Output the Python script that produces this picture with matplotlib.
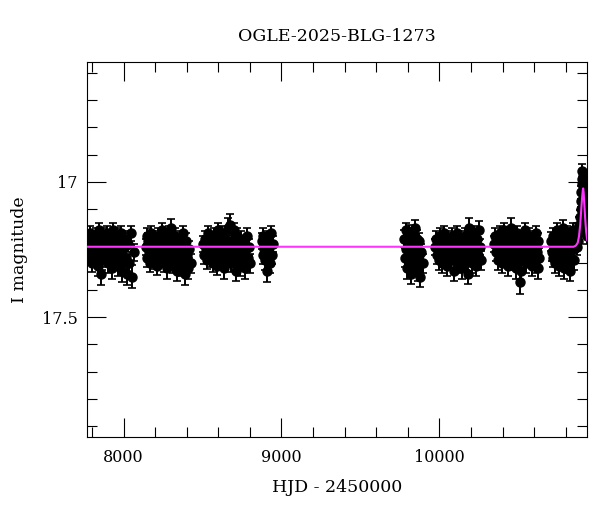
import matplotlib.pyplot as plt
import numpy as np
from matplotlib.ticker import MultipleLocator, FormatStrFormatter

plt.rcParams['font.family'] = ['DejaVu Serif']

# 2017
t1 = [7778, 7783, 7789, 7794, 7800, 7805, 7811, 7816, 7822, 7827,
      7833, 7838, 7844, 7849, 7855, 7860, 7866, 7871, 7877, 7882,
      7888, 7893, 7899, 7904, 7910, 7915, 7921, 7926, 7932, 7937,
      7943, 7948, 7954, 7959, 7965, 7970, 7976, 7981, 7987, 7992,
      7998, 8004, 8010, 8016, 8022, 8029, 8036, 8044, 8053, 8066]
m1 = [17.22, 17.27, 17.19, 17.25, 17.30, 17.21, 17.24, 17.28, 17.20, 17.26,
      17.23, 17.31, 17.18, 17.25, 17.34, 17.22, 17.29, 17.20, 17.26, 17.24,
      17.28, 17.19, 17.23, 17.30, 17.21, 17.27, 17.25, 17.32, 17.18, 17.24,
      17.29, 17.22, 17.26, 17.20, 17.31, 17.23, 17.27, 17.19, 17.33, 17.25,
      17.22, 17.29, 17.21, 17.28, 17.34, 17.23, 17.30, 17.19, 17.35, 17.26]
e1 = [.030, .032, .028, .031, .034, .029, .030, .033, .028, .031,
      .030, .036, .027, .031, .040, .029, .034, .028, .031, .030,
      .033, .028, .030, .035, .029, .032, .031, .038, .027, .030,
      .034, .029, .031, .028, .036, .030, .032, .028, .039, .031,
      .029, .034, .029, .033, .040, .030, .035, .028, .042, .031]

# 2018
t2 = [8140, 8146, 8151, 8157, 8163, 8168, 8174, 8180, 8185, 8191,
      8197, 8202, 8208, 8214, 8219, 8225, 8231, 8236, 8242, 8248,
      8253, 8259, 8265, 8270, 8276, 8282, 8287, 8293, 8299, 8304,
      8310, 8316, 8321, 8327, 8333, 8338, 8344, 8350, 8355, 8361,
      8367, 8372, 8378, 8384, 8389, 8395, 8401, 8408, 8416, 8425]
m2 = [17.24, 17.20, 17.28, 17.22, 17.26, 17.30, 17.19, 17.25, 17.23, 17.29,
      17.21, 17.27, 17.24, 17.31, 17.20, 17.26, 17.22, 17.28, 17.18, 17.25,
      17.30, 17.23, 17.27, 17.21, 17.32, 17.24, 17.19, 17.28, 17.17, 17.26,
      17.22, 17.30, 17.25, 17.20, 17.27, 17.33, 17.23, 17.29, 17.21, 17.26,
      17.24, 17.31, 17.19, 17.28, 17.34, 17.22, 17.27, 17.32, 17.25, 17.30]
e2 = [.030, .028, .033, .029, .031, .034, .028, .030, .030, .033,
      .029, .032, .030, .035, .028, .031, .029, .033, .027, .031,
      .034, .030, .032, .029, .037, .030, .028, .033, .034, .031,
      .029, .035, .031, .028, .032, .038, .030, .034, .029, .031,
      .030, .036, .028, .033, .040, .029, .032, .037, .031, .035]

# 2019
t3 = [8505, 8511, 8517, 8523, 8529, 8535, 8541, 8547, 8553, 8559,
      8565, 8571, 8577, 8583, 8589, 8595, 8601, 8607, 8613, 8619,
      8625, 8631, 8637, 8643, 8649, 8655, 8661, 8667, 8673, 8679,
      8685, 8691, 8697, 8703, 8709, 8715, 8721, 8727, 8733, 8739,
      8745, 8751, 8757, 8763, 8769, 8775, 8781, 8787, 8793, 8799]
m3 = [17.23, 17.27, 17.21, 17.25, 17.29, 17.19, 17.24, 17.28, 17.22, 17.26,
      17.30, 17.20, 17.25, 17.23, 17.31, 17.18, 17.27, 17.22, 17.29, 17.24,
      17.19, 17.26, 17.32, 17.21, 17.28, 17.24, 17.17, 17.27, 17.16, 17.30,
      17.22, 17.25, 17.18, 17.29, 17.23, 17.33, 17.20, 17.27, 17.24, 17.31,
      17.21, 17.26, 17.29, 17.23, 17.32, 17.25, 17.20, 17.28, 17.24, 17.30]
e3 = [.030, .032, .029, .031, .033, .028, .030, .033, .029, .031,
      .034, .028, .031, .030, .035, .027, .032, .029, .034, .030,
      .028, .031, .037, .029, .033, .030, .036, .032, .040, .034,
      .029, .031, .027, .034, .030, .038, .028, .032, .030, .036,
      .029, .031, .034, .030, .037, .031, .028, .033, .030, .035]

# 2020
t4 = [8876, 8881, 8886, 8891, 8896, 8901, 8906, 8911, 8916, 8921, 8926, 8931, 8937, 8944]
m4 = [17.22, 17.27, 17.20, 17.25, 17.29, 17.23, 17.33, 17.21, 17.26, 17.24, 17.30, 17.19, 17.27, 17.23]
e4 = [.030, .033, .028, .031, .034, .030, .040, .029, .032, .030, .035, .028, .033, .030]

# 2022
t5 = [9778, 9782, 9787, 9791, 9796, 9800, 9805, 9809, 9814, 9818, 9823, 9827, 9832,
      9836, 9841, 9845, 9850, 9854, 9859, 9863, 9868, 9873, 9879, 9886, 9895]
m5 = [17.21, 17.28, 17.18, 17.25, 17.32, 17.22, 17.27, 17.19, 17.30, 17.24, 17.34, 17.20, 17.26,
      17.29, 17.23, 17.17, 17.31, 17.25, 17.21, 17.33, 17.27, 17.22, 17.35, 17.26, 17.30]
e5 = [.031, .034, .029, .032, .037, .030, .033, .029, .035, .031, .039, .029, .032,
      .034, .030, .028, .036, .031, .030, .038, .033, .030, .040, .032, .035]

# 2023
t6 = [9971, 9977, 9983, 9989, 9995, 10001, 10007, 10013, 10019, 10025,
      10031, 10037, 10043, 10049, 10055, 10061, 10067, 10073, 10079, 10085,
      10091, 10097, 10103, 10109, 10115, 10121, 10127, 10133, 10139, 10145,
      10151, 10157, 10163, 10169, 10175, 10181, 10187, 10193, 10199, 10205,
      10211, 10217, 10223, 10229, 10235, 10241, 10247, 10253, 10258, 10262]
m6 = [17.24, 17.21, 17.27, 17.23, 17.29, 17.20, 17.26, 17.22, 17.30, 17.25,
      17.19, 17.28, 17.24, 17.31, 17.21, 17.26, 17.23, 17.29, 17.20, 17.27,
      17.33, 17.22, 17.25, 17.19, 17.28, 17.24, 17.30, 17.21, 17.26, 17.32,
      17.23, 17.27, 17.20, 17.29, 17.24, 17.34, 17.17, 17.26, 17.22, 17.30,
      17.25, 17.19, 17.28, 17.23, 17.31, 17.21, 17.27, 17.18, 17.24, 17.29]
e6 = [.030, .029, .032, .030, .034, .028, .031, .029, .035, .031,
      .028, .033, .030, .036, .029, .031, .030, .034, .028, .032,
      .038, .029, .031, .028, .033, .030, .035, .029, .032, .037,
      .030, .032, .028, .034, .030, .039, .036, .031, .029, .035,
      .031, .028, .033, .030, .036, .029, .032, .035, .030, .034]

# 2024
t7 = [10345, 10351, 10357, 10363, 10369, 10375, 10381, 10387, 10393, 10399,
      10405, 10411, 10417, 10423, 10429, 10435, 10441, 10447, 10453, 10459,
      10465, 10471, 10477, 10483, 10489, 10495, 10501, 10507, 10513, 10519,
      10525, 10531, 10537, 10543, 10549, 10555, 10561, 10567, 10573, 10579,
      10585, 10591, 10597, 10603, 10609, 10615, 10620, 10624, 10628, 10631]
m7 = [17.23, 17.20, 17.26, 17.22, 17.29, 17.24, 17.19, 17.27, 17.21, 17.30,
      17.25, 17.18, 17.28, 17.23, 17.26, 17.31, 17.20, 17.24, 17.17, 17.29,
      17.22, 17.27, 17.25, 17.32, 17.19, 17.26, 17.23, 17.29, 17.37, 17.33,
      17.21, 17.27, 17.24, 17.18, 17.30, 17.22, 17.26, 17.20, 17.28, 17.24,
      17.31, 17.21, 17.27, 17.23, 17.30, 17.19, 17.26, 17.32, 17.22, 17.28]
e7 = [.030, .028, .032, .029, .034, .030, .028, .032, .029, .035,
      .031, .028, .033, .030, .032, .036, .028, .030, .035, .034,
      .029, .032, .031, .037, .028, .031, .030, .034, .045, .039,
      .029, .032, .030, .028, .035, .029, .031, .028, .033, .030,
      .036, .029, .032, .030, .035, .028, .031, .038, .029, .034]

# 2025, baseline part and the event
t8 = [10709, 10714, 10718, 10723, 10727, 10732, 10736, 10741, 10745, 10750,
      10754, 10759, 10763, 10768, 10772, 10777, 10781, 10786, 10790, 10795,
      10799, 10804, 10808, 10813, 10817, 10822, 10826, 10831, 10835, 10840,
      10844, 10849, 10853, 10858, 10862,
      10866, 10870, 10874, 10878, 10882, 10886, 10889, 10892, 10895, 10898,
      10900, 10902, 10904, 10906, 10908, 10910, 10912, 10915, 10918, 10921,
      10924, 10927, 10930, 10934]
m8 = [17.22, 17.26, 17.20, 17.28, 17.24, 17.30, 17.21, 17.25, 17.18, 17.27,
      17.23, 17.31, 17.20, 17.26, 17.22, 17.29, 17.17, 17.25, 17.32, 17.21,
      17.27, 17.24, 17.19, 17.30, 17.23, 17.26, 17.33, 17.20, 17.28, 17.22,
      17.25, 17.18, 17.29, 17.23, 17.21,
      17.20, 17.24, 17.18, 17.22, 17.16, 17.19, 17.13, 17.16, 17.10, 17.07,
      17.04, 17.01, 16.99, 16.96, 16.98, 17.00, 17.03, 17.07, 17.05, 17.11,
      17.14, 17.17, 17.16, 17.20]
e8 = [.034, .031, .029, .033, .030, .035, .029, .031, .028, .032,
      .030, .036, .028, .031, .029, .034, .028, .031, .037, .029,
      .032, .030, .028, .035, .030, .031, .038, .029, .033, .030,
      .031, .028, .034, .030, .029,
      .030, .031, .029, .030, .028, .029, .027, .028, .026, .025,
      .024, .024, .023, .025, .022, .023, .024, .025, .025, .026,
      .027, .028, .028, .029]

# model curve
model_t = [7770, 10850, 10864, 10876, 10885, 10892, 10898, 10904, 10908, 10911,
           10914, 10918, 10922, 10926, 10930, 10937]
model_m = [17.24, 17.24, 17.236, 17.226, 17.20, 17.16, 17.11, 17.06, 17.035, 17.025,
           17.04, 17.08, 17.12, 17.155, 17.185, 17.215]

t = np.concatenate([t1, t2, t3, t4, t5, t6, t7, t8])
m = np.concatenate([m1, m2, m3, m4, m5, m6, m7, m8])
e = np.concatenate([e1, e2, e3, e4, e5, e6, e7, e8])

fig = plt.figure(figsize=(6, 5.12), dpi=100)
ax = fig.add_axes([0.1455, 0.1471, 0.8333, 0.7313])

pts, caps, bars = ax.errorbar(t, m, yerr=e, fmt='o', ms=6.5, color='k', ecolor='k',
                              elinewidth=1.4, capsize=3, capthick=1.2, zorder=2)
for c in caps:
    c.set_color('0.4')
ax.plot(model_t, model_m, color='#ff33ff', lw=1.5, zorder=5)

ax.set_xlim(7770, 10937)
ax.set_ylim(17.94, 16.56)

ax.xaxis.set_major_locator(MultipleLocator(1000))
ax.xaxis.set_minor_locator(MultipleLocator(200))
ax.yaxis.set_major_locator(MultipleLocator(0.5))
ax.yaxis.set_minor_locator(MultipleLocator(0.1))
ax.yaxis.set_major_formatter(FormatStrFormatter('%g'))

ax.tick_params(which='both', direction='in', top=True, right=True, width=0.8,
               labelsize=11.5)
ax.tick_params(which='major', length=13.5)
ax.tick_params(which='minor', length=7)
ax.tick_params(axis='x', pad=9)
ax.tick_params(axis='y', pad=7)

ax.set_title('OGLE-2025-BLG-1273', fontsize=12.5, pad=15)
ax.set_xlabel('HJD - 2450000', fontsize=12.5, labelpad=9)
ax.set_ylabel('I magnitude', fontsize=12.5, labelpad=10)

fig.savefig('out.png', dpi=100)
